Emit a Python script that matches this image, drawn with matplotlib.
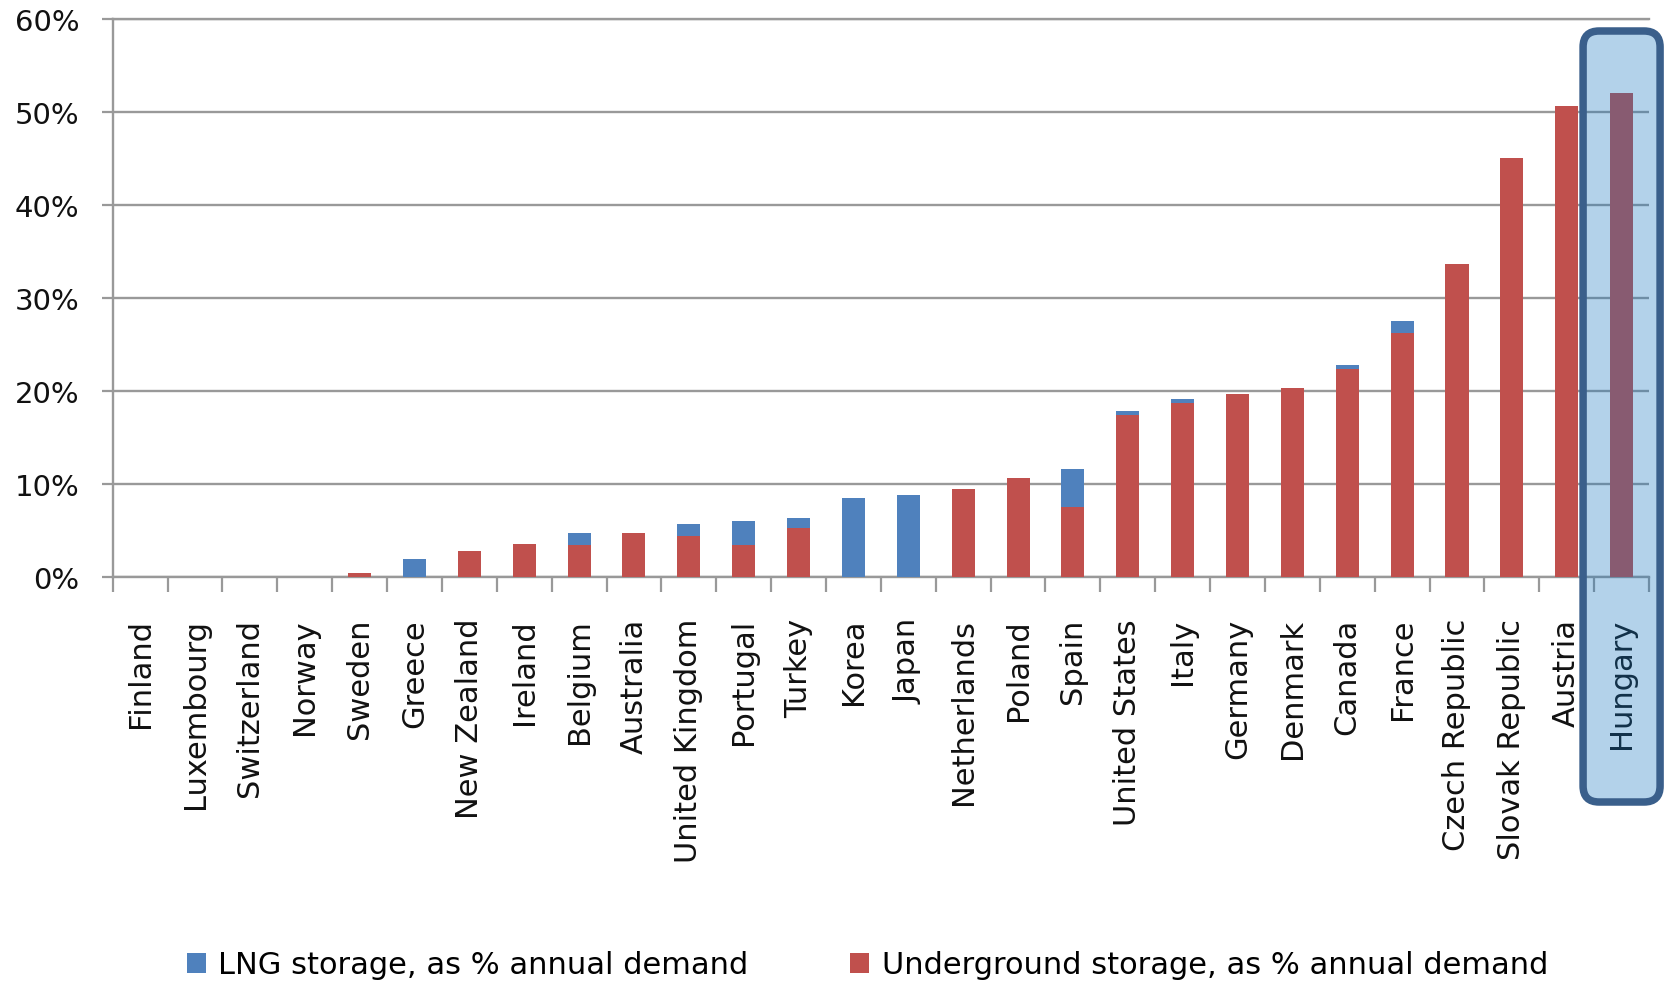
import numpy as np
import matplotlib
matplotlib.use("Agg")
import matplotlib.pyplot as plt
from matplotlib.patches import Patch, FancyBboxPatch
from matplotlib.ticker import FuncFormatter

# data (% of annual demand)
countries = ['Finland', 'Luxembourg', 'Switzerland', 'Norway', 'Sweden', 'Greece',
             'New Zealand', 'Ireland', 'Belgium', 'Australia', 'United Kingdom',
             'Portugal', 'Turkey', 'Korea', 'Japan', 'Netherlands', 'Poland', 'Spain',
             'United States', 'Italy', 'Germany', 'Denmark', 'Canada', 'France',
             'Czech Republic', 'Slovak Republic', 'Austria', 'Hungary']
underground = [0, 0, 0, 0, 0.4, 0, 2.8, 3.5, 3.4, 4.7, 4.4, 3.4, 5.3, 0, 0, 9.5,
               10.6, 7.5, 17.4, 18.7, 19.7, 20.3, 22.4, 26.2, 33.7, 45.1, 50.7, 52.0]
lng = [0, 0, 0, 0, 0, 1.9, 0, 0, 1.3, 0, 1.3, 2.6, 1.0, 8.5, 8.8, 0, 0, 4.1,
       0.4, 0.4, 0, 0, 0.4, 1.3, 0, 0, 0, 0]
yticks = [0, 10, 20, 30, 40, 50, 60]
highlight = 'Hungary'

blue = '#4f81bd'
red = '#c0504d'
grey = '#999999'

plt.rcParams['font.family'] = ['DejaVu Sans']

fig = plt.figure(figsize=(16.65, 9.87), dpi=100)
ax = fig.add_axes([0.0677, 0.4144, 0.9904 - 0.0677, 0.9797 - 0.4144])

x = np.arange(len(countries))
ax.bar(x, underground, width=0.42, color=red, zorder=3)
ax.bar(x, lng, width=0.42, bottom=underground, color=blue, zorder=3)

ax.set_xlim(-0.5, len(countries) - 0.5)
ax.set_ylim(0, 60)
ax.set_yticks(yticks)
ax.yaxis.set_major_formatter(FuncFormatter(lambda v, p: '%d%%' % v))
ax.grid(axis='y', color=grey, linewidth=1.7, zorder=0)

# category labels at centres, tick marks between categories
ax.set_xticks(x)
ax.set_xticklabels(countries, rotation=90, va='top', ha='center')
ax.set_xticks(np.arange(len(countries) + 1) - 0.5, minor=True)
ax.tick_params(axis='x', which='major', length=0, pad=29.5, labelsize=22, labelcolor='#111111')
ax.tick_params(axis='x', which='minor', length=10.8, width=1.6, color=grey)
ax.tick_params(axis='y', length=7.9, width=1.6, color=grey, pad=16, labelsize=21,
               labelcolor='#111111')

for s in ['left', 'bottom', 'top']:
    ax.spines[s].set_color(grey)
    ax.spines[s].set_linewidth(1.7)
ax.spines['right'].set_visible(False)

# legend, two entries placed apart like the original
h1 = Patch(facecolor=blue, edgecolor='none')
h2 = Patch(facecolor=red, edgecolor='none')
leg_kw = dict(frameon=False, fontsize=22, handlelength=0.62, handleheight=0.62,
              handletextpad=0.42, borderpad=0, borderaxespad=0, loc='center left')
fig.legend([h1], ['LNG storage, as % annual demand'], bbox_to_anchor=(186.7 / 1665, 0.0213), **leg_kw)
fig.legend([h2], ['Underground storage, as % annual demand'], bbox_to_anchor=(850 / 1665, 0.0213), **leg_kw)

# highlight box around Hungary (pixel units so the corners stay round)
fig.canvas.draw()
hx = ax.transData.transform((countries.index(highlight), 0))[0]
W, H = fig.bbox.width, fig.bbox.height
bw = 77
top = H - 32
bottom = H - 803
box = FancyBboxPatch((hx - 38.5, bottom), bw, top - bottom,
                     boxstyle='round,pad=0,rounding_size=16',
                     facecolor=(0.08, 0.46, 0.75, 0.32), edgecolor='#3a5f8b',
                     linewidth=5.4, transform=None, zorder=10)
fig.patches.append(box)
box.set_figure(fig)

plt.savefig('out.png', dpi=100)
